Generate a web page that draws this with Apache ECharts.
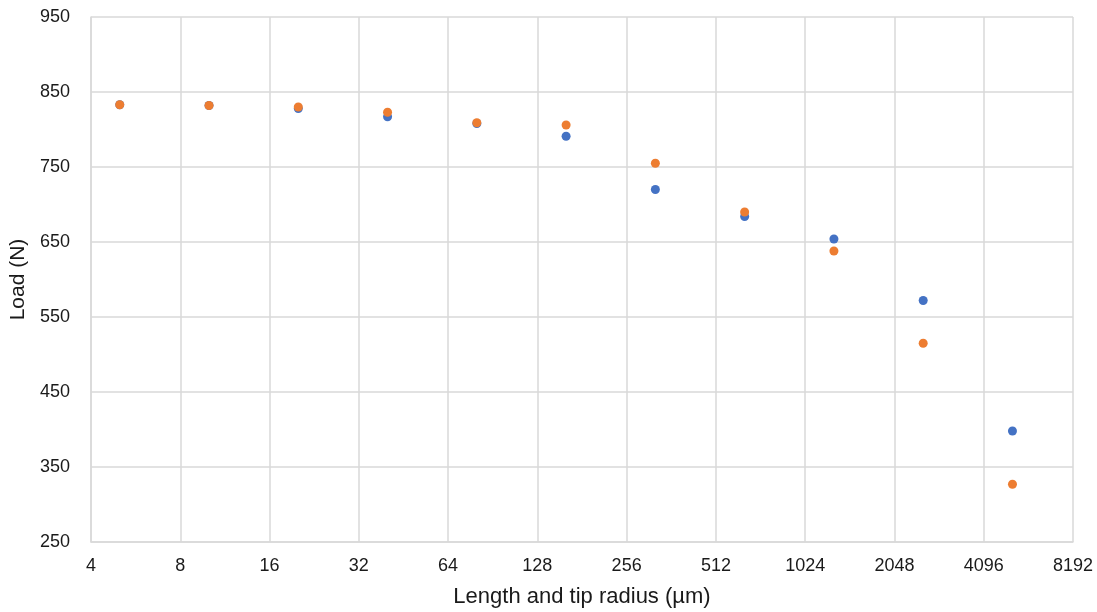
<!DOCTYPE html>
<html>
<head>
<meta charset="utf-8">
<script src="https://cdn.jsdelivr.net/npm/echarts@6/dist/echarts.min.js"></script>
<style>
html,body{margin:0;padding:0;background:#fff;}
#chart{width:1097px;height:612px;}
</style>
</head>
<body>
<div id="chart"></div>
<script>
const xValues = [5, 10, 20, 40, 80, 160, 320, 640, 1280, 2560, 5120];
const seriesBlue = [833, 832, 828, 817, 808, 791, 720, 684, 654, 572, 398];
const seriesOrange = [833, 832, 830, 823, 809, 806, 755, 690, 638, 515, 327];
const xTicks = [4, 8, 16, 32, 64, 128, 256, 512, 1024, 2048, 4096, 8192];
const yTicks = [250, 350, 450, 550, 650, 750, 850, 950];
const xName = 'Length and tip radius (µm)';
const yName = 'Load (N)';

const font = 'Liberation Sans, Arial, sans-serif';
const chart = echarts.init(document.getElementById('chart'));
chart.setOption({
  animation: false,
  grid: {left: 91, right: 24, top: 17, bottom: 70, outerBoundsMode: 'none', containLabel: false},
  xAxis: {
    type: 'log', logBase: 2, min: 4, max: 8192,
    name: xName, nameLocation: 'middle', nameGap: 44,
    nameTextStyle: {fontFamily: font, fontSize: 22, color: '#1a1a1a'},
    axisLine: {show: true, lineStyle: {color: '#d9d9d9', width: 1.5}},
    axisTick: {show: false, customValues: xTicks},
    axisLabel: {fontFamily: font, fontSize: 18, color: '#1a1a1a', margin: 15, customValues: xTicks,
      formatter: v => String(Math.round(v))},
    splitLine: {show: true, lineStyle: {color: '#d9d9d9', width: 1.5}},
    minorTick: {show: false}
  },
  yAxis: {
    type: 'value', min: 250, max: 950,
    name: yName, nameLocation: 'middle', nameGap: 61, nameRotate: 90,
    nameTextStyle: {fontFamily: font, fontSize: 21, color: '#1a1a1a'},
    axisLine: {show: true, lineStyle: {color: '#d9d9d9', width: 1.5}},
    axisTick: {show: false, customValues: yTicks},
    axisLabel: {fontFamily: font, fontSize: 18, color: '#1a1a1a', margin: 21, customValues: yTicks,
      formatter: v => String(Math.round(v))},
    splitLine: {show: true, lineStyle: {color: '#d9d9d9', width: 1.5}}
  },
  series: [
    {
      type: 'scatter', name: 'A', symbolSize: 9,
      itemStyle: {color: '#4472C4', opacity: 1},
      data: xValues.map((x, i) => [x, seriesBlue[i]])
    },
    {
      type: 'scatter', name: 'B', symbolSize: 9,
      itemStyle: {color: '#ED7D31', opacity: 1},
      data: xValues.map((x, i) => [x, seriesOrange[i]])
    }
  ]
});
</script>
</body>
</html>
